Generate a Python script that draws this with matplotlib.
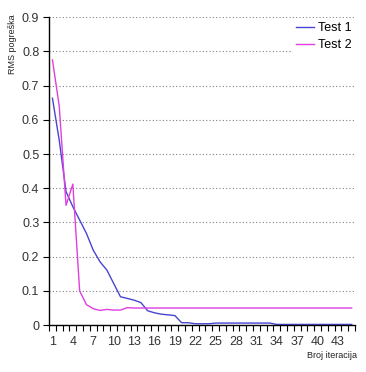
import matplotlib
matplotlib.use('Agg')
from matplotlib import pyplot as plt
from matplotlib.ticker import FixedLocator

plt.rcParams['font.family'] = ['Liberation Sans', 'DejaVu Sans']

# iteracije 1..45
iteracije = list(range(1, 46))

test1 = [0.663, 0.54, 0.39, 0.346, 0.307, 0.268, 0.219, 0.185, 0.161, 0.122,
         0.083, 0.078, 0.073, 0.066, 0.042, 0.036, 0.032, 0.030, 0.028, 0.007,
         0.007, 0.004, 0.004, 0.004, 0.006, 0.006, 0.006, 0.006, 0.006, 0.006,
         0.006, 0.006, 0.006, 0.002, 0.002, 0.002, 0.002, 0.002, 0.002, 0.002,
         0.002, 0.002, 0.002, 0.002, 0.002]

test2 = [0.775, 0.64, 0.35, 0.412, 0.10, 0.06, 0.048, 0.043, 0.046, 0.044,
         0.044, 0.051, 0.05, 0.05, 0.05, 0.05, 0.05, 0.05, 0.05, 0.05,
         0.05, 0.05, 0.05, 0.05, 0.05, 0.05, 0.05, 0.05, 0.05, 0.05,
         0.05, 0.05, 0.05, 0.05, 0.05, 0.05, 0.05, 0.05, 0.05, 0.05,
         0.05, 0.05, 0.05, 0.05, 0.05]

oznake_x = list(range(1, 46, 3))
oznake_y = [v / 10 for v in range(10)]
tekst_y = ['0'] + ['%.1f' % v for v in oznake_y[1:]]

fig = plt.figure(figsize=(3.66, 3.72), dpi=100)
ax = fig.add_axes([0.134, 0.126, 0.836, 0.828])

ax.plot(iteracije, test1, color='#4646d2', lw=1.0, label='Test 1')
ax.plot(iteracije, test2, color='#e03ee0', lw=1.0, label='Test 2')

ax.set_xlim(0.5, 45.5)
ax.set_ylim(0, 0.9)
ax.yaxis.set_major_locator(FixedLocator(oznake_y))
ax.set_yticklabels(tekst_y)
ax.set_xticks(oznake_x)
ax.set_xticks([i + 0.5 for i in range(0, 46)], minor=True)
ax.tick_params(axis='x', which='major', length=0, labelsize=9, labelcolor='#333333', pad=8)
ax.tick_params(axis='x', which='minor', length=4, direction='out', color='black', width=0.8)
ax.tick_params(axis='y', length=4, direction='out', labelsize=9, color='black', labelcolor='#333333', pad=3)

ax.grid(axis='y', linestyle=(0, (1, 2)), color='#808080', lw=0.8)
ax.set_axisbelow(True)
for s in ['top', 'right']:
    ax.spines[s].set_visible(False)
ax.spines['left'].set_linewidth(1.0)
ax.spines['bottom'].set_linewidth(1.0)

fig.text(0.033, 0.88, 'RMS pogreška', rotation=90, ha='center', va='center', fontsize=6.5, color='#222222')
fig.text(0.975, 0.045, 'Broj iteracija', ha='right', va='center', fontsize=6.5, color='#222222')

leg = ax.legend(loc='upper right', bbox_to_anchor=(1.02, 1.016), frameon=True, fontsize=9,
                handlelength=1.4, handletextpad=0.3, labelspacing=0.4, borderpad=0.3)
leg.get_frame().set_edgecolor('none')
leg.get_frame().set_facecolor('white')
leg.get_frame().set_alpha(1)

fig.savefig('out.png', dpi=100, facecolor='white')
